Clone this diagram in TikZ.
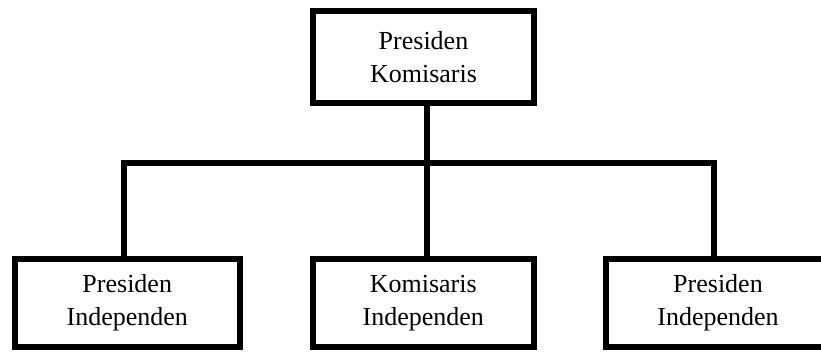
\documentclass[tikz,border=0pt]{standalone}
\usepackage{fontspec}
\setmainfont{Liberation Serif}
\begin{document}
\begin{tikzpicture}[x=1pt,y=-1pt,
  orgbox/.style={draw=black, line width=6pt, fill=white, align=center,
    inner sep=0pt, font=\fontsize{26}{33.4}\selectfont, line join=miter},
  link/.style={draw=black, line width=6pt, line join=miter}]
  \useasboundingbox (0,0) rectangle (821,354);
  % chart boxes
  \node[orgbox, minimum width=221pt, minimum height=92pt] (top) at (423.5,57) {Presiden\\Komisaris};
  \node[orgbox, minimum width=225.5pt, minimum height=88pt] (lb) at (127.25,303) {Presiden\\Independen};
  \node[orgbox, minimum width=221.5pt, minimum height=88pt] (mb) at (423.25,303) {Komisaris\\Independen};
  \node[orgbox, minimum width=224pt, minimum height=88pt] (rb) at (718,303) {Presiden\\Independen};
  % connector junctions
  \coordinate (bus) at (427,162.5);
  \coordinate (lj) at (124,162.5);
  \coordinate (rj) at (714,162.5);
  % connectors
  \draw[link] (top.south -| bus) -- (mb.north -| bus);
  \draw[link] (lb.north -| lj) -- (lj) -- (rj) -- (rb.north -| rj);
\end{tikzpicture}
\end{document}
